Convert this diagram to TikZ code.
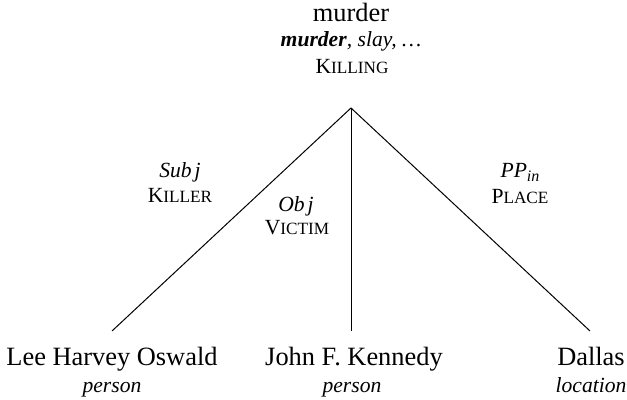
\documentclass[tikz,border=0pt]{standalone}
\usepackage{fontspec}
\setmainfont{Liberation Serif}
% faked small capitals: first letter full size, the rest as reduced capitals
\newcommand{\fsc}[2]{#1{\fontsize{8.6}{10}\selectfont #2}}
\begin{document}
\begin{tikzpicture}[x=0.5pt,y=-0.5pt,
  mainlab/.style={inner sep=0pt,anchor=base,font=\fontsize{13.2}{15}\selectfont},
  sublab/.style={inner sep=0pt,anchor=base,font=\fontsize{10.8}{13}\selectfont},
  branch/.style={line width=0.5pt,line join=miter}]
\useasboundingbox (0,0) rectangle (627,400);

% frame node at the top
\node[mainlab] (frame) at (351,22) {murder};
\node[sublab] (lexunits) at (351,47) {\textbf{\textit{murder}}\textit{, slay, \ldots}};
\node[sublab] (framename) at (352,74) {\fsc{K}{ILLING}};

% branch points
\coordinate (apex) at (351,108);
\coordinate (endA) at (112,331);
\coordinate (endB) at (351,331);
\coordinate (endC) at (590,331);

\draw[branch] (endA) -- (apex) -- (endC);
\draw[branch] (apex) -- (endB);

% role labels on the branches
\node[sublab] (gfA) at (180,178) {\textit{Sub\hspace{0.14em}j}};
\node[sublab] (roleA) at (180,203) {\fsc{K}{ILLER}};
\node[sublab] (gfB) at (296,212) {\textit{Ob\hspace{0.14em}j}};
\node[sublab] (roleB) at (297,235) {\fsc{V}{ICTIM}};
\node[sublab] (gfC) at (520,178) {\textit{PP}\raisebox{-0.35ex}{\fontsize{8}{9}\selectfont\itshape in}};
\node[sublab] (roleC) at (520,204) {\fsc{P}{LACE}};

% fillers
\node[mainlab] (fillA) at (112,366) {Lee Harvey Oswald};
\node[sublab] (typeA) at (112,393) {\textit{person}};
\node[mainlab] (fillB) at (354,366) {John F. Kennedy};
\node[sublab] (typeB) at (352,393) {\textit{person}};
\node[mainlab] (fillC) at (591,366) {Dallas};
\node[sublab] (typeC) at (591,393) {\textit{location}};
\end{tikzpicture}
\end{document}
